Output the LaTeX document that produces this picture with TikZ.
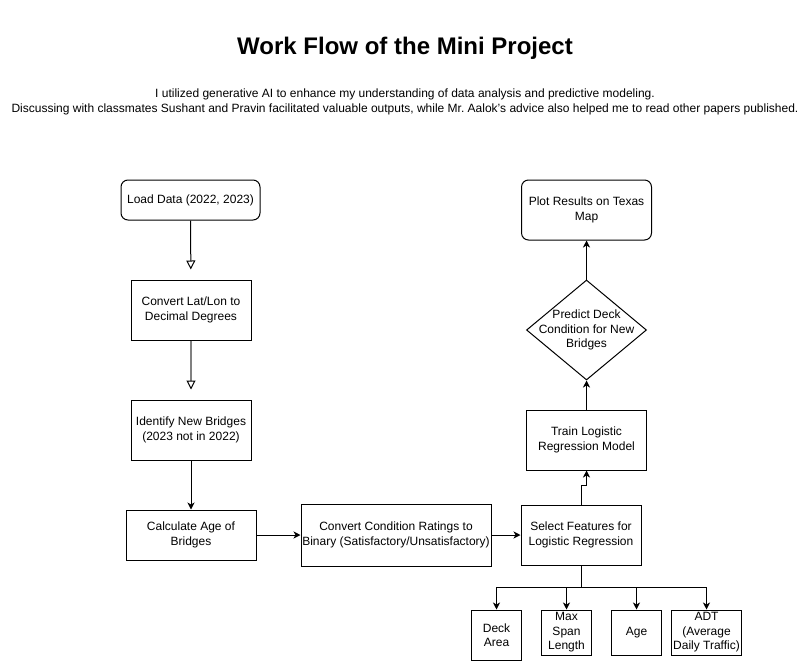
\documentclass[tikz,border=0pt]{standalone}
\usepackage{fontspec}
\setmainfont{Liberation Sans}
\usetikzlibrary{arrows.meta, shapes.geometric, positioning, calc}

\tikzset{
  box/.style={draw, line width=1pt, minimum width=120pt, minimum height=60pt, inner sep=1pt, align=center, font=\fontsize{12}{14.5}\selectfont},
  rbox/.style={box, rounded corners=7pt},
  dia/.style={draw, line width=1pt, diamond, minimum width=120pt, minimum height=100pt, inner sep=0pt, aspect=1.2},
  txt/.style={align=center, inner sep=0pt, font=\fontsize{12}{14.5}\selectfont},
  feat/.style={box, minimum width=50pt, minimum height=45pt},
  flow/.style={line width=1pt, -{Stealth[length=7pt, width=7pt, inset=2pt]}},
  hollow/.style={line width=1pt, -{Triangle[open, length=9pt, width=9pt, color=black, line width=1pt]}},
}

\begin{document}
\begin{tikzpicture}[x=1pt, y=1pt]
     \useasboundingbox (0,0) rectangle (810,-661);
     % title and note
     \node[font=\bfseries\fontsize{24}{28}\selectfont] (title) at (405,-48) {Work Flow of the Mini Project};
     \node[align=center, font=\fontsize{12}{15}\selectfont\frenchspacing] (note) at (405,-102) {I utilized generative AI to enhance my understanding of data analysis and predictive modeling.\\Discussing with classmates Sushant and Pravin facilitated valuable outputs, while Mr.\ Aalok's advice also helped me to read other papers published.};
     % left column
     \node[rbox, minimum width=139pt, minimum height=40pt] (load) at (190.5,-200) {Load Data (2022, 2023)};
     \node[box] (latlon) at (191,-310) {Convert Lat/Lon to\\Decimal Degrees};
     \node[box] (newb) at (191,-430) {Identify New Bridges\\(2023 not in 2022)};
     \node[box, minimum width=130pt, minimum height=50pt] (age) at (191,-535) {Calculate Age of\\Bridges};
     \node[box, minimum width=190pt, minimum height=62pt] (binary) at (396,-535) {Convert Condition Ratings to\\Binary (Satisfactory/Unsatisfactory)};
     % right column
     \node[box] (select) at (581,-535) {Select Features for\\Logistic Regression};
     \node[box] (train) at (586.5,-440) {Train Logistic\\Regression Model};
     \node[dia] (predict) at (586.5,-330) {};
     \node[txt] (predtext) at (predict) {Predict Deck\\Condition for New\\Bridges};
     \node[rbox, minimum width=130pt] (plot) at (586.5,-210) {Plot Results on Texas\\Map};
     % features
     \node[feat, minimum height=50pt] (deck) at (496.5,-635) {Deck\\Area};
     \node[feat] (span) at (566.5,-632.5) {Max\\Span\\Length};
     \node[feat] (agef) at (636.5,-632.5) {Age};
     \node[feat, minimum width=70pt] (adt) at (706.5,-632.5) {ADT\\(Average\\Daily Traffic)};
     % connectors
     \draw[hollow, shorten >=10pt] (load) -- (latlon);
     \draw[hollow, draw=gray, line width=1.6pt, shorten >=10pt] (latlon) -- (newb);
     \draw[flow] (newb) -- (age);
     \draw[flow] (age) -- (binary);
     \draw[flow] (binary) -- (select);
     \draw[flow] (select.north) -- ++(0,19) -| (train.south);
     \draw[flow] (train) -- (predict);
     \draw[flow] (predict) -- (plot);
     \coordinate (bar) at ($(select.south)+(0,-22)$);
     \foreach \f in {deck,span,agef,adt}{
        \draw[flow] (select.south) -- (bar) -| (\f.north);
     }
\end{tikzpicture}
\end{document}
